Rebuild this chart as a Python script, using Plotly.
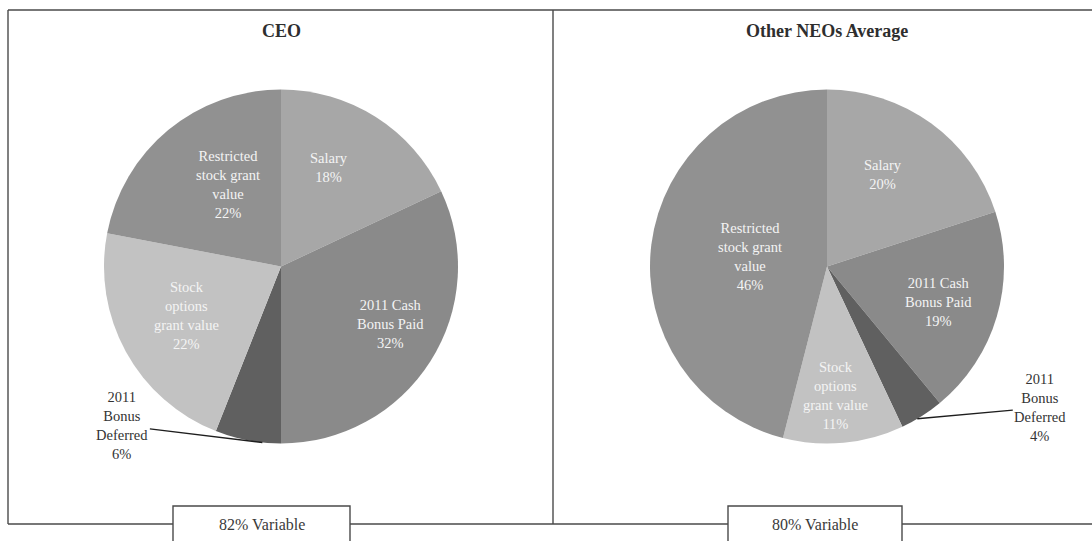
import math
import plotly.graph_objects as go

# ---- data -------------------------------------------------------------
categories = [
    "Salary",
    "2011 Cash Bonus Paid",
    "2011 Bonus Deferred",
    "Stock options grant value",
    "Restricted stock grant value",
]
ceo_pct = [18, 32, 6, 22, 22]
neo_pct = [20, 19, 4, 11, 46]

panel_titles = ["CEO", "Other NEOs Average"]
variable_labels = ["82% Variable", "80% Variable"]

# wrapped versions of the category names for the slice labels
ceo_wrapped = ["Salary", "2011 Cash<br>Bonus Paid", "2011<br>Bonus<br>Deferred",
               "Stock<br>options<br>grant value", "Restricted<br>stock grant<br>value"]
neo_wrapped = ["Salary", "2011 Cash<br>Bonus Paid", "2011<br>Bonus<br>Deferred",
               "Stock<br>options<br>grant value", "Restricted<br>stock grant<br>value"]

slice_colors = ["#a7a7a7", "#8a8a8a", "#606060", "#c2c2c2", "#919191"]

# ---- layout geometry (pixels) ----------------------------------------
W, H = 1092, 541
R = 177
CENTERS = [(281, 266.5), (827, 266.5)]
# inside label placement: (fraction of radius, angular nudge in degrees)
LABEL_POLAR = [
    [(0.62, -6.4), (0.70, -4.8), None, (0.60, 1.5), (0.55, 6.9)],
    [(0.61, -4.5), (0.66, 1.4), None, (0.73, 1.8), (0.44, 0.0)],
]
OUTSIDE_IDX = 2  # the small slice is labelled outside with a leader line
LEADER_TIP_FRAC = [0.28, 0.62]          # where along the slice arc the leader ends
OUTSIDE_TEXT_OFFSET = [(-140, -17), (123, -11)]
BOXES = [(173, 350), (728, 902)]

SERIF = "Liberation Serif, Times New Roman, serif"
FRAME = "#4a4a4a"


def px(x, y):
    return x / W, 1 - y / H


def note(x, y, text, **kw):
    xp, yp = px(x, y)
    d = dict(x=xp, y=yp, xref="paper", yref="paper", text=text,
             xanchor="center", yanchor="middle", align="center",
             showarrow=False)
    d.update(kw)
    return d


fig = go.Figure()
annotations = []
shapes = []

for k, (vals, wrapped) in enumerate([(ceo_pct, ceo_wrapped), (neo_pct, neo_wrapped)]):
    cx, cy = CENTERS[k]
    x0, y1 = px(cx - R, cy - R)
    x1, y0 = px(cx + R, cy + R)
    fig.add_trace(go.Pie(
        labels=categories,
        values=vals,
        sort=False,
        direction="clockwise",
        rotation=0,
        textinfo="none",
        marker=dict(colors=slice_colors, line=dict(width=0)),
        domain=dict(x=[x0, x1], y=[y0, y1]),
        showlegend=False,
        name=panel_titles[k],
        hovertemplate="%{label}: %{value}%<extra></extra>",
    ))

    total = sum(vals)
    start = 0.0
    for i, v in enumerate(vals):
        a0 = start / total * 360.0
        a1 = (start + v) / total * 360.0
        start += v
        text = f"{wrapped[i]}<br>{v}%"
        if i == OUTSIDE_IDX:
            th = math.radians(a0 + LEADER_TIP_FRAC[k] * (a1 - a0))
            ex = cx + R * math.sin(th)
            ey = cy - R * math.cos(th)
            ax, ay = OUTSIDE_TEXT_OFFSET[k]
            annotations.append(note(
                ex, ey, text, showarrow=True, arrowhead=0, arrowwidth=1.3,
                arrowcolor="#1e1e1e", ax=ax, ay=ay, standoff=0,
                font=dict(family=SERIF, size=14.5, color="#333333"),
            ))
        else:
            f, nudge = LABEL_POLAR[k][i]
            th = math.radians((a0 + a1) / 2 + nudge)
            lx = cx + f * R * math.sin(th)
            ly = cy - f * R * math.cos(th)
            annotations.append(note(
                lx, ly, text,
                font=dict(family=SERIF, size=14.5, color="#f4f4f4"),
            ))

    # panel title
    annotations.append(note(
        cx, 31, f"<b>{panel_titles[k]}</b>",
        font=dict(family=SERIF, size=18, color="#2e2e2e"),
    ))

# ---- frame ------------------------------------------------------------
def line(xa, ya, xb, yb):
    p0 = px(xa, ya)
    p1 = px(xb, yb)
    shapes.append(dict(type="line", xref="paper", yref="paper",
                       x0=p0[0], y0=p0[1], x1=p1[0], y1=p1[1],
                       line=dict(color=FRAME, width=1.4)))

line(8, 10, 1092, 10)
line(8, 10, 8, 524)
line(553, 10, 553, 524)
line(8, 524, 1092, 524)

# boxes holding the variable-pay share
for k, (bx0, bx1) in enumerate(BOXES):
    p0 = px(bx0, 506)
    p1 = px(bx1, 560)
    shapes.append(dict(type="rect", xref="paper", yref="paper",
                       x0=p0[0], y0=p0[1], x1=p1[0], y1=p1[1],
                       fillcolor="white", line=dict(color=FRAME, width=1.4)))
    annotations.append(note(
        (bx0 + bx1) / 2, 524, variable_labels[k],
        font=dict(family=SERIF, size=16, color="#3a3a3a"),
    ))

fig.update_layout(
    width=W, height=H,
    margin=dict(l=0, r=0, t=0, b=0),
    paper_bgcolor="white",
    plot_bgcolor="white",
    shapes=shapes,
    annotations=annotations,
)

fig.write_html("out.html")
